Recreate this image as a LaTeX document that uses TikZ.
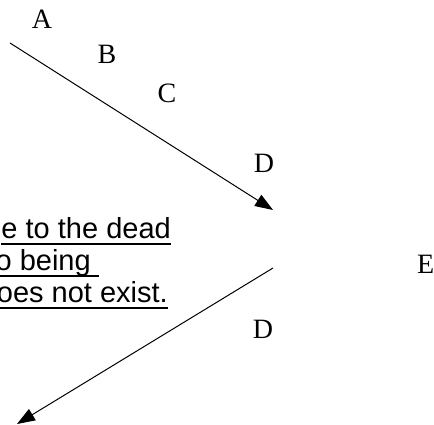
\documentclass[tikz,border=0pt]{standalone}
\usepackage{fontspec}
\setmainfont{Liberation Serif}
\newfontfamily\arialfont{Liberation Sans}
\usetikzlibrary{arrows.meta}
\newcommand\wordul[1]{\setbox0\hbox{#1}\rlap{\rule[-7pt]{\wd0}{2.4pt}}\box0}
\tikzset{
  lbl/.style={inner sep=0pt, font=\fontsize{28}{33}\selectfont},
  txt/.style={inner sep=0pt, anchor=base east, font=\arialfont\fontsize{29}{33}\selectfont},
  conn/.style={line width=1pt, -{Triangle[length=18pt,width=13pt]}}
}
\begin{document}
\begin{tikzpicture}[x=1pt,y=-1pt]
\useasboundingbox (0,0) rectangle (434,424);
\node[lbl, anchor=base] (A) at (42,28) {A};
\node[lbl, anchor=base] (B) at (107,63) {B};
\node[lbl, anchor=base] (C) at (167,102) {C};
\node[lbl, anchor=base] (D1) at (264,172) {D};
\node[lbl, anchor=base west] (E) at (417,273) {E};
\node[lbl, anchor=base] (D2) at (263,338) {D};
\node[txt] (t1) at (171,238) {\wordul{e to the dead}};
\node[txt] (t2) at (99,270) {\wordul{o being\ }};
\node[txt] (t3) at (168,302) {\wordul{oes not exist.}};
\coordinate (s1) at (10,43);
\coordinate (e1) at (273,210);
\coordinate (s2) at (273,268);
\coordinate (e2) at (17,424);
\draw[conn] (s1) -- (e1);
\draw[conn] (s2) -- (e2);
\end{tikzpicture}
\end{document}
